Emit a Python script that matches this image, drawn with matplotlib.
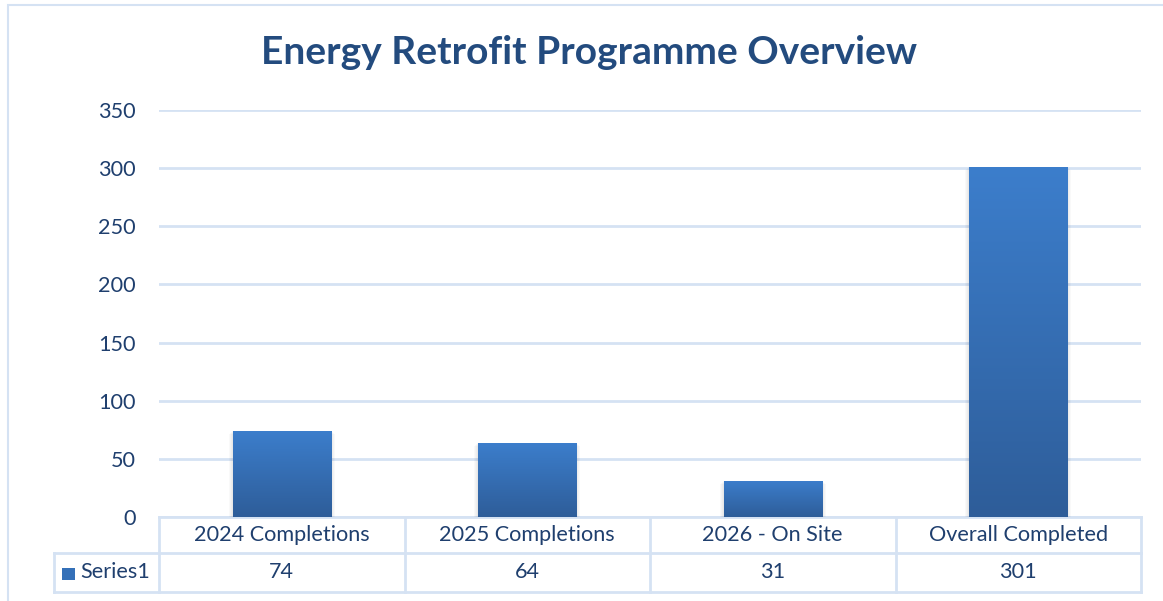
import numpy as np
import matplotlib.pyplot as plt
from matplotlib.colors import LinearSegmentedColormap
from matplotlib.patches import Rectangle

# data
categories = ['2024 Completions', '2025 Completions', '2026 - On Site', 'Overall Completed']
values = [74, 64, 31, 301]
series_name = 'Series1'
yticks = [0, 50, 100, 150, 200, 250, 300, 350]

text_color = '#1F3F6E'
title_color = '#234B7E'
line_color = '#D5E2F3'
bar_cmap = LinearSegmentedColormap.from_list('bar', ['#2E5D99', '#3C7ECC'])

plt.rcParams['font.family'] = ['Lato', 'DejaVu Sans']
fs = 15.6

fig = plt.figure(figsize=(11.63, 6.01), dpi=100)
W, H = 1163, 601

# outer chart border
fig.patches.append(Rectangle((8 / W, -0.05), 1.2, 1 - 5 / H + 0.05, transform=fig.transFigure,
                             fill=False, edgecolor=line_color, linewidth=1.5))

x0, x1, y0, y1 = 159, 1141, 517, 110
ax = fig.add_axes([x0 / W, 1 - y0 / H, (x1 - x0) / W, (y0 - y1) / H])

x = np.arange(len(categories))
bars = ax.bar(x, values, width=0.4, color='#3470B8', zorder=3)

# vertical gradient on each bar + soft shadow
for b in bars:
    bx, by, bw, bh = b.get_x(), b.get_y(), b.get_width(), b.get_height()
    grad = np.linspace(0, 1, 256).reshape(-1, 1)
    im = ax.imshow(grad, extent=[bx, bx + bw, by, by + bh], origin='lower', aspect='auto',
                   cmap=bar_cmap, zorder=4)
    im.set_clip_path(b)
    for k in range(1, 5):
        ax.add_patch(Rectangle((bx - 0.004 * k, by), bw + 0.008 * k, bh - 1.0 * k + 1.0,
                               facecolor='black', alpha=0.025, edgecolor='none', zorder=2))

ax.set_xlim(-0.5, len(categories) - 0.5)
ax.set_ylim(0, 350)
ax.set_yticks(yticks)
ax.set_xticks([])
ax.grid(axis='y', color=line_color, linewidth=2, zorder=0)
ax.tick_params(axis='y', length=0, pad=16.5, labelsize=fs, labelcolor=text_color)
for s in ax.spines.values():
    s.set_visible(False)

# data table under the axis
trans = ax.transAxes
ncat = len(categories)
row1 = -36 / (y0 - y1)
row2 = -75 / (y0 - y1)
left = (54 - x0) / (x1 - x0)
lkw = dict(color=line_color, linewidth=2, transform=trans, clip_on=False, zorder=1)
ax.plot([0, 1], [0, 0], **lkw)
ax.plot([left, 1], [row1, row1], **lkw)
ax.plot([left, 1], [row2, row2], **lkw)
ax.plot([left, left], [row1, row2], **lkw)
for i in range(ncat + 1):
    ax.plot([i / ncat, i / ncat], [0, row2], **lkw)

for i, (c, v) in enumerate(zip(categories, values)):
    xc = (i + 0.5) / ncat
    ax.text(xc, row1 / 2, c, transform=trans, ha='center', va='center',
            fontsize=fs, color=text_color)
    ax.text(xc, (row1 + row2) / 2, str(v), transform=trans, ha='center', va='center',
            fontsize=fs, color=text_color)

# legend key in the table
fig.patches.append(Rectangle((62 / W, 1 - 580 / H), 13 / W, 12 / H, transform=fig.transFigure,
                             facecolor='#3470B8', edgecolor='none'))
ax.text((80 - x0) / (x1 - x0), (row1 + row2) / 2, series_name, transform=trans,
        ha='left', va='center', fontsize=fs, color=text_color)

fig.text(589 / W, 1 - 52 / H, 'Energy Retrofit Programme Overview', ha='center', va='center',
         fontsize=28, fontweight='bold', color=title_color)

fig.savefig('out.png', dpi=100)
